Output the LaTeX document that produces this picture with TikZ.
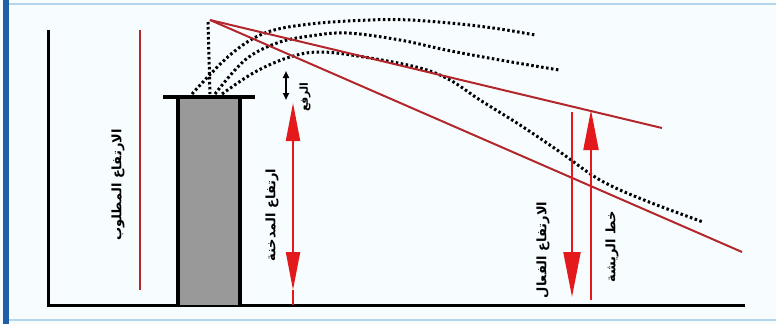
\documentclass[tikz,border=0pt]{standalone}
\usepackage{fontspec}
\newfontfamily\arabicfont[Script=Arabic]{DejaVu Sans}
\TeXXeTstate=1
\usetikzlibrary{arrows.meta}
\definecolor{darkred}{HTML}{B3262B}
\definecolor{brightred}{HTML}{E3191C}
\definecolor{framblue}{HTML}{1F5FA8}
\definecolor{lightblue}{HTML}{B5D5EA}
\begin{document}
\begin{tikzpicture}[x=1pt,y=-1pt,
  blackline/.style={line width=3pt,black},
  redline/.style={line width=2pt,darkred},
  dotline/.style={line width=3pt,black,dash pattern=on 2.5pt off 2.5pt},
  bigarrow/.style={line width=2pt,brightred},
  lbl/.style={font=\arabicfont\bfseries\fontsize{13}{14}\selectfont,rotate=90,inner sep=0pt}]
\useasboundingbox (0,0) rectangle (776,324);
\fill[white!97!cyan] (0,0) rectangle (776,324);
\fill[framblue] (3,0) rectangle (9,324);
\draw[lightblue,line width=2pt] (9,4) -- (776,4);
\draw[lightblue,line width=2pt] (9,320) -- (776,320);
% coordinates
\coordinate (src) at (210,20);
\coordinate (up) at (662,128);
\coordinate (low) at (742,252);
% ground and wall
\draw[blackline] (48,30) -- (48,305) -- (745,305);
% required height line
\draw[line width=1.8pt,darkred] (140,30) -- (140,290);
% stack
\draw[fill=black!40,line width=3.5pt] (178,305) -- (178,97) -- (240,97) -- (240,305);
\draw[line width=4pt] (163,97) -- (255,97);
% dotted plume lines
\draw[dotline] (208,22) -- (210,94);
\draw[dotline] plot[smooth,tension=0.6] coordinates {(192,94) (230,55) (265,33) (310,24) (370,20) (410,20) (460,24) (500,29) (535,35)};
\draw[dotline] plot[smooth,tension=0.6] coordinates {(215,94) (245,60) (277,43) (310,36) (347,33) (400,40) (446,50) (500,60) (559,70)};
\draw[dotline] plot[smooth,tension=0.6] coordinates {(222,94) (255,72) (290,57) (322,52) (370,58) (420,68) (450,80) (480,100) (520,125) (560,152) (600,180) (644,200) (703,222)};
% red lines
\draw[redline] (src) -- (up);
\draw[redline] (src) -- (low);
% stack height arrow
\coordinate (sh1) at (293,103);
\coordinate (sh2) at (293,290);
\coordinate (sh3) at (293,305);
\draw[bigarrow,{Triangle[length=38pt,width=14pt]}-{Triangle[length=38pt,width=14pt]}] (sh1) -- (sh2);
\draw[bigarrow] (sh2) -- (sh3);
% plume rise small arrow
\coordinate (pr1) at (286,71);
\coordinate (pr2) at (286,100);
\draw[line width=1.8pt,{Triangle[length=7pt,width=6pt]}-{Triangle[length=7pt,width=6pt]}] (pr1) -- (pr2);
% effective height arrow (down)
\coordinate (eh1) at (572,112);
\coordinate (eh2) at (572,297);
\draw[bigarrow,-{Triangle[length=45pt,width=17pt]}] (eh1) -- (eh2);
% plume line arrow (up)
\coordinate (pl1) at (591,300);
\coordinate (pl2) at (591,110);
\draw[bigarrow,-{Triangle[length=40pt,width=15pt]}] (pl1) -- (pl2);
% labels
\node[lbl] (req) at (118,185) {\beginR الارتفاع المطلوب\endR};
\node[lbl] (stk) at (272,215) {\beginR ارتفاع المدخنة\endR};
\node[lbl,font=\arabicfont\bfseries\fontsize{11}{12}\selectfont] (rise) at (305,97) {\beginR الرفع\endR};
\node[lbl] (eff) at (543,250) {\beginR الارتفاع الفعال\endR};
\node[lbl] (pline) at (612,247) {\beginR خط الريشة\endR};
\end{tikzpicture}
\end{document}
